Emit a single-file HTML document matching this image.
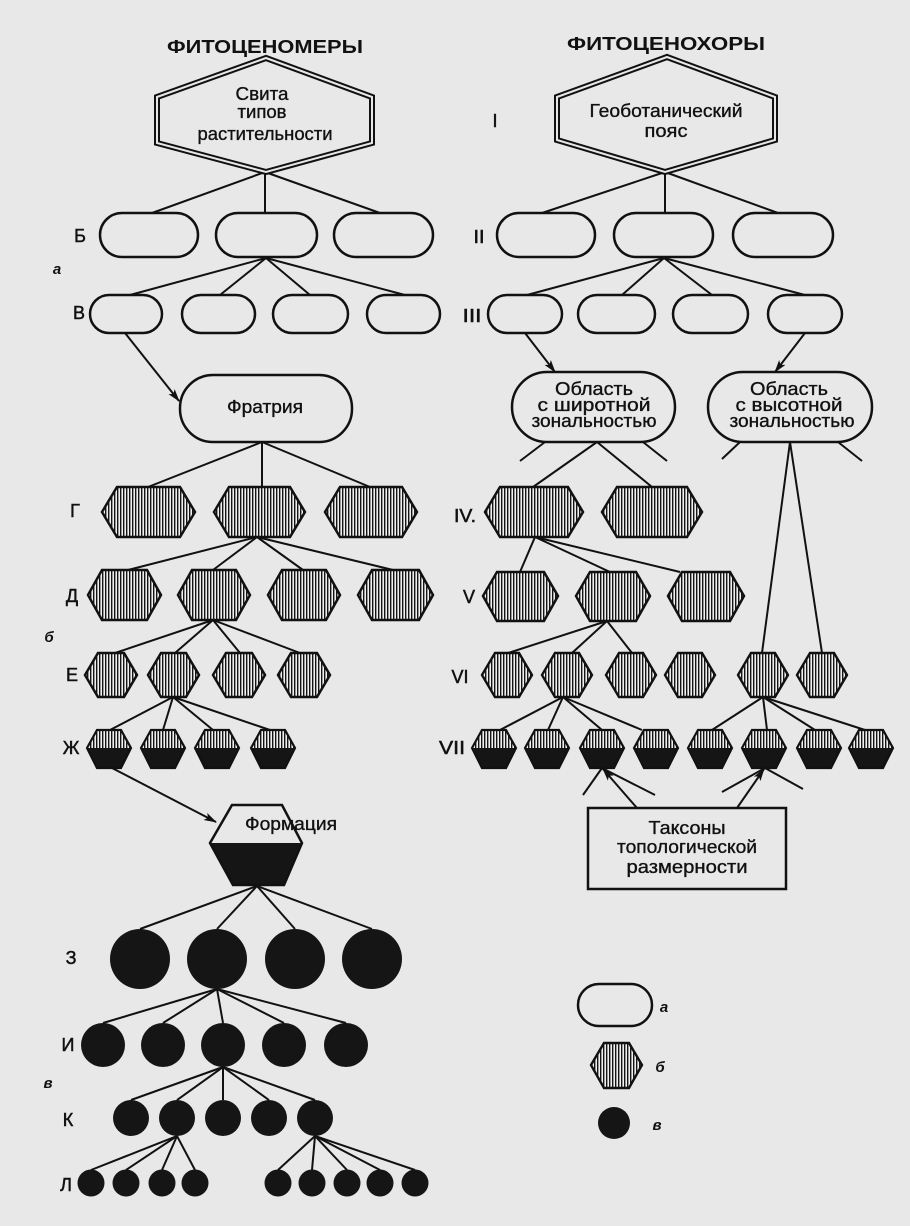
<!DOCTYPE html>
<html><head><meta charset="utf-8">
<style>
html,body{margin:0;padding:0;background:#e8e8e8;}
svg{display:block;}
text{font-family:"Liberation Sans","DejaVu Sans",sans-serif;fill:#111;}
.t{font-size:18px;stroke:#111;stroke-width:0.35;}
.b{font-size:18px;font-weight:bold;}
.l{font-size:18px;stroke:#111;stroke-width:0.5;}
.i{font-size:15px;font-style:italic;font-weight:bold;}
</style></head>
<body>
<svg width="910" height="1226" viewBox="0 0 910 1226" xmlns="http://www.w3.org/2000/svg">
<defs>
<pattern id="h" width="3" height="10" patternUnits="userSpaceOnUse">
<rect width="3" height="10" fill="#f0f0f0"/><rect width="1.4" height="10" fill="#151515"/>
</pattern>
<marker id="ah" markerWidth="13" markerHeight="8" refX="12" refY="4" orient="auto" markerUnits="userSpaceOnUse">
<path d="M0,0 L13,4 L0,8 L3,4 Z" fill="#111"/>
</marker>
<g id="two">
<polygon points="0,18 10,0 34,0 44,18" fill="url(#h)"/>
<polygon points="0,18 44,18 34,38 10,38" fill="#151515"/>
<polygon points="0,18 10,0 34,0 44,18 34,38 10,38" fill="none" stroke="#111" stroke-width="2.2"/>
</g>
<polygon id="hx50" points="0,22 13,0 37,0 50,22 37,44 13,44" fill="url(#h)" stroke="#111" stroke-width="2.4"/>
</defs>
<rect width="910" height="1226" fill="#e8e8e8"/>

<!-- ============ LEFT ============ -->
<text class="b" x="265" y="53" text-anchor="middle" textLength="196" lengthAdjust="spacingAndGlyphs">ФИТОЦЕНОМЕРЫ</text>

<g stroke="#111" stroke-width="2" fill="none">
<line x1="265" y1="172" x2="152" y2="213"/><line x1="265" y1="172" x2="265" y2="213"/><line x1="265" y1="172" x2="380" y2="213"/>
<line x1="266" y1="258" x2="130" y2="295"/><line x1="266" y1="258" x2="220" y2="295"/><line x1="266" y1="258" x2="310" y2="295"/><line x1="266" y1="258" x2="405" y2="295"/>
<line x1="125" y1="333" x2="179" y2="401" marker-end="url(#ah)"/>
<line x1="262" y1="442" x2="148" y2="487"/><line x1="262" y1="442" x2="262" y2="487"/><line x1="262" y1="442" x2="370" y2="487"/>
<line x1="257" y1="537" x2="128" y2="570"/><line x1="257" y1="537" x2="213" y2="570"/><line x1="257" y1="537" x2="303" y2="570"/><line x1="257" y1="537" x2="393" y2="570"/>
<line x1="213" y1="620" x2="115" y2="653"/><line x1="213" y1="620" x2="175" y2="653"/><line x1="213" y1="620" x2="240" y2="653"/><line x1="213" y1="620" x2="300" y2="653"/>
<line x1="173" y1="697" x2="110" y2="730"/><line x1="173" y1="697" x2="163" y2="730"/><line x1="173" y1="697" x2="213" y2="730"/><line x1="173" y1="697" x2="270" y2="730"/>
<line x1="112" y1="768" x2="216" y2="822" marker-end="url(#ah)"/>
<line x1="257" y1="886" x2="140" y2="929"/><line x1="257" y1="886" x2="217" y2="929"/><line x1="257" y1="886" x2="295" y2="929"/><line x1="257" y1="886" x2="372" y2="929"/>
<line x1="217" y1="989" x2="103" y2="1023"/><line x1="217" y1="989" x2="163" y2="1023"/><line x1="217" y1="989" x2="223" y2="1023"/><line x1="217" y1="989" x2="284" y2="1023"/><line x1="217" y1="989" x2="346" y2="1023"/>
<line x1="223" y1="1067" x2="131" y2="1100"/><line x1="223" y1="1067" x2="177" y2="1100"/><line x1="223" y1="1067" x2="223" y2="1100"/><line x1="223" y1="1067" x2="269" y2="1100"/><line x1="223" y1="1067" x2="315" y2="1100"/>
<line x1="177" y1="1136" x2="91" y2="1170"/><line x1="177" y1="1136" x2="126" y2="1170"/><line x1="177" y1="1136" x2="162" y2="1170"/><line x1="177" y1="1136" x2="195" y2="1170"/>
<line x1="315" y1="1136" x2="278" y2="1170"/><line x1="315" y1="1136" x2="312" y2="1170"/><line x1="315" y1="1136" x2="347" y2="1170"/><line x1="315" y1="1136" x2="380" y2="1170"/><line x1="315" y1="1136" x2="415" y2="1170"/>
</g>

<polygon points="266,58 157,97 157,143 266,172 372,143 372,97" fill="#e8e8e8" stroke="#111" stroke-width="6"/>
<polygon points="266,58 157,97 157,143 266,172 372,143 372,97" fill="none" stroke="#e8e8e8" stroke-width="2"/>
<text class="t" x="262" y="100" text-anchor="middle" textLength="53" lengthAdjust="spacingAndGlyphs">Свита</text>
<text class="t" x="262" y="118" text-anchor="middle" textLength="49" lengthAdjust="spacingAndGlyphs">типов</text>
<text class="t" x="265" y="140" text-anchor="middle" textLength="135" lengthAdjust="spacingAndGlyphs">растительности</text>

<g fill="none" stroke="#111" stroke-width="2.5">
<rect x="100" y="213" width="98" height="44" rx="22"/>
<rect x="216" y="213" width="101" height="44" rx="22"/>
<rect x="334" y="213" width="99" height="44" rx="22"/>
<rect x="90" y="295" width="72" height="38" rx="19"/>
<rect x="182" y="295" width="73" height="38" rx="19"/>
<rect x="273" y="295" width="75" height="38" rx="19"/>
<rect x="367" y="295" width="73" height="38" rx="19"/>
<rect x="180" y="375" width="172" height="67" rx="33" fill="#e8e8e8"/>
</g>
<text class="t" x="265" y="413" text-anchor="middle" textLength="76" lengthAdjust="spacingAndGlyphs">Фратрия</text>

<g fill="url(#h)" stroke="#111" stroke-width="2.5">
<polygon points="102,512 117,487 180,487 195,512 180,537 117,537"/>
<polygon points="214,512 229,487 290,487 305,512 290,537 229,537"/>
<polygon points="325,512 340,487 402,487 417,512 402,537 340,537"/>
<polygon points="88,595 102,570 147,570 161,595 147,620 102,620"/>
<polygon points="178,595 192,570 236,570 250,595 236,620 192,620"/>
<polygon points="268,595 282,570 326,570 340,595 326,620 282,620"/>
<polygon points="358,595 372,570 419,570 433,595 419,620 372,620"/>
<polygon points="85,675 98,653 124,653 137,675 124,697 98,697"/>
<polygon points="148,675 161,653 186,653 199,675 186,697 161,697"/>
<polygon points="213,675 226,653 252,653 265,675 252,697 226,697"/>
<polygon points="278,675 291,653 317,653 330,675 317,697 291,697"/>
</g>
<use href="#two" transform="translate(87,730)"/>
<use href="#two" transform="translate(141,730)"/>
<use href="#two" transform="translate(195,730)"/>
<use href="#two" transform="translate(251,730)"/>

<polygon points="210,843 232,805 282,805 302,843" fill="#e8e8e8"/>
<polygon points="210,843 302,843 284,885 233,885" fill="#151515"/>
<polygon points="210,843 232,805 282,805 302,843 284,885 233,885" fill="none" stroke="#111" stroke-width="2.5"/>
<text class="t" x="291" y="830" text-anchor="middle" textLength="92" lengthAdjust="spacingAndGlyphs">Формация</text>

<g fill="#151515">
<circle cx="140" cy="959" r="30"/><circle cx="217" cy="959" r="30"/><circle cx="295" cy="959" r="30"/><circle cx="372" cy="959" r="30"/>
<circle cx="103" cy="1045" r="22"/><circle cx="163" cy="1045" r="22"/><circle cx="223" cy="1045" r="22"/><circle cx="284" cy="1045" r="22"/><circle cx="346" cy="1045" r="22"/>
<circle cx="131" cy="1118" r="18"/><circle cx="177" cy="1118" r="18"/><circle cx="223" cy="1118" r="18"/><circle cx="269" cy="1118" r="18"/><circle cx="315" cy="1118" r="18"/>
<circle cx="91" cy="1183" r="13.5"/><circle cx="126" cy="1183" r="13.5"/><circle cx="162" cy="1183" r="13.5"/><circle cx="195" cy="1183" r="13.5"/>
<circle cx="278" cy="1183" r="13.5"/><circle cx="312" cy="1183" r="13.5"/><circle cx="347" cy="1183" r="13.5"/><circle cx="380" cy="1183" r="13.5"/><circle cx="415" cy="1183" r="13.5"/>
</g>

<text class="l" x="80" y="242" text-anchor="middle">Б</text>
<text class="i" x="57" y="274" text-anchor="middle">а</text>
<text class="l" x="79" y="319" text-anchor="middle">В</text>
<text class="l" x="75" y="517" text-anchor="middle">Г</text>
<text class="l" x="72" y="602" text-anchor="middle">Д</text>
<text class="i" x="49" y="642" text-anchor="middle">б</text>
<text class="l" x="72" y="681" text-anchor="middle">Е</text>
<text class="l" x="71" y="754" text-anchor="middle">Ж</text>
<text class="l" x="71" y="964" text-anchor="middle">З</text>
<text class="l" x="68" y="1051" text-anchor="middle">И</text>
<text class="i" x="48" y="1088" text-anchor="middle">в</text>
<text class="l" x="68" y="1126" text-anchor="middle">К</text>
<text class="l" x="66" y="1191" text-anchor="middle">Л</text>

<!-- ============ RIGHT ============ -->
<text class="b" x="666" y="50" text-anchor="middle" textLength="198" lengthAdjust="spacingAndGlyphs">ФИТОЦЕНОХОРЫ</text>

<g stroke="#111" stroke-width="2" fill="none">
<line x1="665" y1="172" x2="542" y2="213"/><line x1="665" y1="172" x2="665" y2="213"/><line x1="665" y1="172" x2="778" y2="213"/>
<line x1="664" y1="258" x2="527" y2="295"/><line x1="664" y1="258" x2="622" y2="295"/><line x1="664" y1="258" x2="712" y2="295"/><line x1="664" y1="258" x2="805" y2="295"/>
<line x1="525" y1="333" x2="555" y2="372" marker-end="url(#ah)"/>
<line x1="805" y1="333" x2="775" y2="372" marker-end="url(#ah)"/>
<line x1="545" y1="442" x2="520" y2="461"/><line x1="643" y1="442" x2="667" y2="461"/>
<line x1="597" y1="442" x2="533" y2="487"/><line x1="597" y1="442" x2="652" y2="487"/>
<line x1="740" y1="442" x2="722" y2="459"/><line x1="838" y1="442" x2="862" y2="461"/>
<line x1="790" y1="442" x2="762" y2="653"/><line x1="790" y1="442" x2="822" y2="653"/>
<line x1="535" y1="537" x2="520" y2="572"/><line x1="535" y1="537" x2="610" y2="572"/><line x1="535" y1="537" x2="680" y2="572"/>
<line x1="607" y1="621" x2="508" y2="653"/><line x1="607" y1="621" x2="572" y2="653"/><line x1="607" y1="621" x2="632" y2="653"/>
<line x1="563" y1="697" x2="500" y2="730"/><line x1="563" y1="697" x2="548" y2="730"/><line x1="563" y1="697" x2="602" y2="730"/><line x1="563" y1="697" x2="642" y2="730"/>
<line x1="763" y1="697" x2="712" y2="730"/><line x1="763" y1="697" x2="767" y2="730"/><line x1="763" y1="697" x2="815" y2="730"/><line x1="763" y1="697" x2="865" y2="730"/>
<line x1="602" y1="768" x2="583" y2="795"/><line x1="602" y1="768" x2="655" y2="795"/>
<line x1="637" y1="808" x2="603" y2="769" marker-end="url(#ah)"/>
<line x1="765" y1="768" x2="722" y2="792"/><line x1="765" y1="768" x2="803" y2="789"/>
<line x1="737" y1="808" x2="764" y2="769" marker-end="url(#ah)"/>
</g>

<polygon points="667,57 557,97 557,140 665,172 775,140 775,97" fill="#e8e8e8" stroke="#111" stroke-width="6"/>
<polygon points="667,57 557,97 557,140 665,172 775,140 775,97" fill="none" stroke="#e8e8e8" stroke-width="2"/>
<text class="t" x="666" y="117" text-anchor="middle" textLength="153" lengthAdjust="spacingAndGlyphs">Геоботанический</text>
<text class="t" x="666" y="137" text-anchor="middle" textLength="43" lengthAdjust="spacingAndGlyphs">пояс</text>

<g fill="none" stroke="#111" stroke-width="2.5">
<rect x="497" y="213" width="98" height="44" rx="22"/>
<rect x="614" y="213" width="99" height="44" rx="22"/>
<rect x="733" y="213" width="100" height="44" rx="22"/>
<rect x="488" y="295" width="74" height="38" rx="19"/>
<rect x="578" y="295" width="77" height="38" rx="19"/>
<rect x="673" y="295" width="75" height="38" rx="19"/>
<rect x="768" y="295" width="74" height="38" rx="19"/>
<rect x="512" y="372" width="163" height="70" rx="35" fill="#e8e8e8"/>
<rect x="708" y="372" width="164" height="70" rx="35" fill="#e8e8e8"/>
</g>
<text class="t" x="594" y="395" text-anchor="middle" textLength="78" lengthAdjust="spacingAndGlyphs">Область</text>
<text class="t" x="594" y="411" text-anchor="middle" textLength="113" lengthAdjust="spacingAndGlyphs">с широтной</text>
<text class="t" x="594" y="427" text-anchor="middle" textLength="125" lengthAdjust="spacingAndGlyphs">зональностью</text>
<text class="t" x="789" y="395" text-anchor="middle" textLength="78" lengthAdjust="spacingAndGlyphs">Область</text>
<text class="t" x="789" y="411" text-anchor="middle" textLength="107" lengthAdjust="spacingAndGlyphs">с высотной</text>
<text class="t" x="792" y="427" text-anchor="middle" textLength="125" lengthAdjust="spacingAndGlyphs">зональностью</text>

<g fill="url(#h)" stroke="#111" stroke-width="2.5">
<polygon points="485,512 500,487 568,487 583,512 568,537 500,537"/>
<polygon points="602,512 617,487 687,487 702,512 687,537 617,537"/>
<polygon points="483,596 497,572 544,572 558,596 544,621 497,621"/>
<polygon points="576,596 590,572 636,572 650,596 636,621 590,621"/>
<polygon points="668,596 682,572 730,572 744,596 730,621 682,621"/>
</g>
<use href="#hx50" transform="translate(482,653)"/>
<use href="#hx50" transform="translate(542,653)"/>
<use href="#hx50" transform="translate(606,653)"/>
<use href="#hx50" transform="translate(665,653)"/>
<use href="#hx50" transform="translate(738,653)"/>
<use href="#hx50" transform="translate(797,653)"/>
<use href="#two" transform="translate(472,730)"/>
<use href="#two" transform="translate(525,730)"/>
<use href="#two" transform="translate(580,730)"/>
<use href="#two" transform="translate(634,730)"/>
<use href="#two" transform="translate(688,730)"/>
<use href="#two" transform="translate(742,730)"/>
<use href="#two" transform="translate(797,730)"/>
<use href="#two" transform="translate(849,730)"/>

<rect x="588" y="808" width="198" height="81" fill="#e8e8e8" stroke="#111" stroke-width="2.5"/>
<text class="t" x="687" y="834" text-anchor="middle" textLength="77" lengthAdjust="spacingAndGlyphs">Таксоны</text>
<text class="t" x="687" y="853" text-anchor="middle" textLength="140" lengthAdjust="spacingAndGlyphs">топологической</text>
<text class="t" x="687" y="873" text-anchor="middle" textLength="121" lengthAdjust="spacingAndGlyphs">размерности</text>

<text class="l" x="495" y="127" text-anchor="middle" font-size="22">I</text>
<text class="l" x="479" y="243" text-anchor="middle" textLength="11" lengthAdjust="spacingAndGlyphs">II</text>
<text class="l" x="472" y="322" text-anchor="middle" textLength="19" lengthAdjust="spacingAndGlyphs">III</text>
<text class="l" x="465" y="522" text-anchor="middle" textLength="22" lengthAdjust="spacingAndGlyphs">IV.</text>
<text class="l" x="469" y="603" text-anchor="middle">V</text>
<text class="l" x="460" y="683" text-anchor="middle">VI</text>
<text class="l" x="452" y="754" text-anchor="middle" textLength="26" lengthAdjust="spacingAndGlyphs">VII</text>

<rect x="578" y="984" width="74" height="42" rx="21" fill="none" stroke="#111" stroke-width="2.5"/>
<text class="i" x="664" y="1012" text-anchor="middle">а</text>
<polygon points="591,1065 604,1043 629,1043 642,1065 629,1088 604,1088" fill="url(#h)" stroke="#111" stroke-width="2.4"/>
<text class="i" x="660" y="1072" text-anchor="middle">б</text>
<circle cx="614" cy="1123" r="16" fill="#151515"/>
<text class="i" x="657" y="1130" text-anchor="middle">в</text>
</svg>
</body></html>
